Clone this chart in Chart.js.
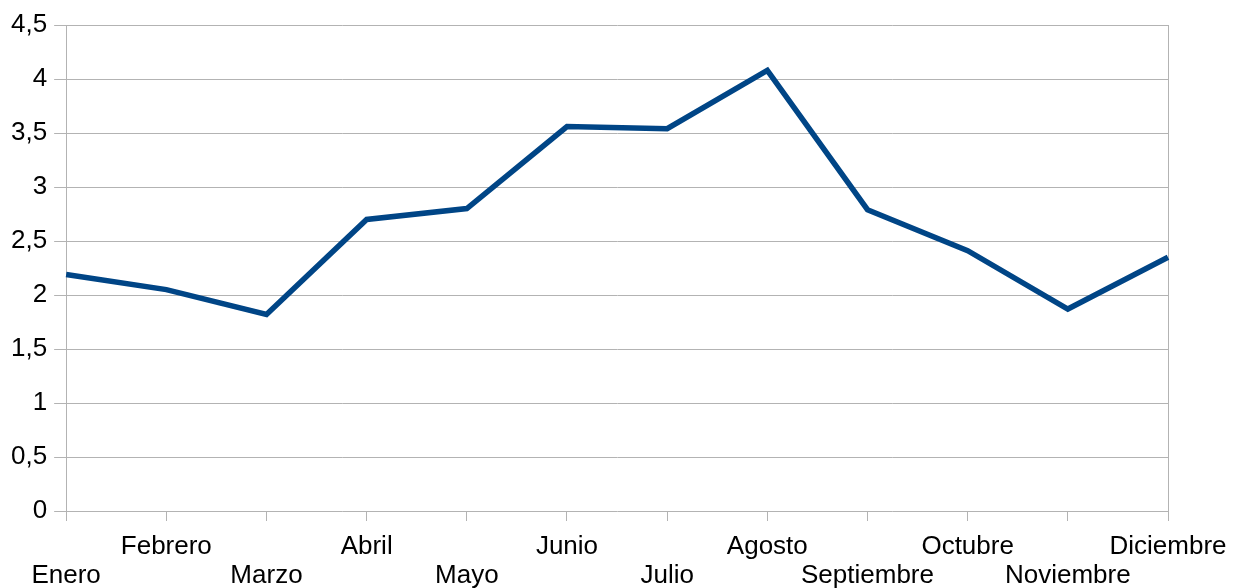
<!DOCTYPE html>
<html lang="es">
    <head>
        <meta charset="UTF-8">
        <title>Gráfico mensual</title>
        <script src="https://cdn.jsdelivr.net/npm/chart.js@4.4.0/dist/chart.umd.min.js"></script>
        <style>
            body { margin: 0; background: #fff; }
        </style>
    </head>
    <body>
        <canvas id="lineChart" width="1234" height="588"></canvas>

        <script>
            const months = ["Enero", "Febrero", "Marzo", "Abril", "Mayo", "Junio", "Julio", "Agosto", "Septiembre", "Octubre", "Noviembre", "Diciembre"];
            const values = [2.19, 2.05, 1.82, 2.70, 2.80, 3.56, 3.54, 4.08, 2.79, 2.41, 1.87, 2.35];
            const yTicks = [0, 0.5, 1, 1.5, 2, 2.5, 3, 3.5, 4, 4.5];

            const gridColor = "#b3b3b3";

            new Chart("lineChart", {
                type: "line",
                data: {
                    labels: months,
                    datasets: [{
                        data: values,
                        borderColor: "#004586",
                        borderWidth: 5.5,
                        pointRadius: 0,
                        tension: 0,
                        fill: false
                    }]
                },
                options: {
                    responsive: false,
                    animation: false,
                    layout: {padding: {top: 25, right: 66, left: 4, bottom: 0}},
                    plugins: {legend: {display: false}, tooltip: {enabled: false}},
                    scales: {
                        x: {
                            offset: false,
                            // fixed axis height, labels may hang past the plot edges
                            afterFit: (axis) => {
                                axis.height = 77;
                                axis.paddingLeft = 0;
                                axis.paddingRight = 0;
                            },
                            grid: {
                                color: (ctx) => (ctx.index === 0 || ctx.index === months.length - 1) ? gridColor : "rgba(0,0,0,0)",
                                tickColor: gridColor,
                                tickLength: 10,
                                lineWidth: 1
                            },
                            border: {display: false},
                            ticks: {
                                autoSkip: false,
                                maxRotation: 0,
                                minRotation: 0,
                                padding: 11,
                                color: "#000",
                                font: {family: "'Liberation Sans', Arial, sans-serif", size: 26, lineHeight: 1.12},
                                callback: (val, i) => i % 2 === 0 ? ["", months[i]] : [months[i], ""]
                            }
                        },
                        y: {
                            min: 0,
                            max: 4.5,
                            afterBuildTicks: (axis) => { axis.ticks = yTicks.map(v => ({value: v})); },
                            grid: {color: gridColor, tickColor: gridColor, tickLength: 12, lineWidth: 1},
                            border: {display: true, color: gridColor, width: 1},
                            ticks: {
                                padding: 7,
                                color: "#000",
                                font: {family: "'Liberation Sans', Arial, sans-serif", size: 26},
                                callback: (v) => String(v).replace(".", ",")
                            }
                        }
                    }
                }
            });
        </script>
    </body>
</html>
